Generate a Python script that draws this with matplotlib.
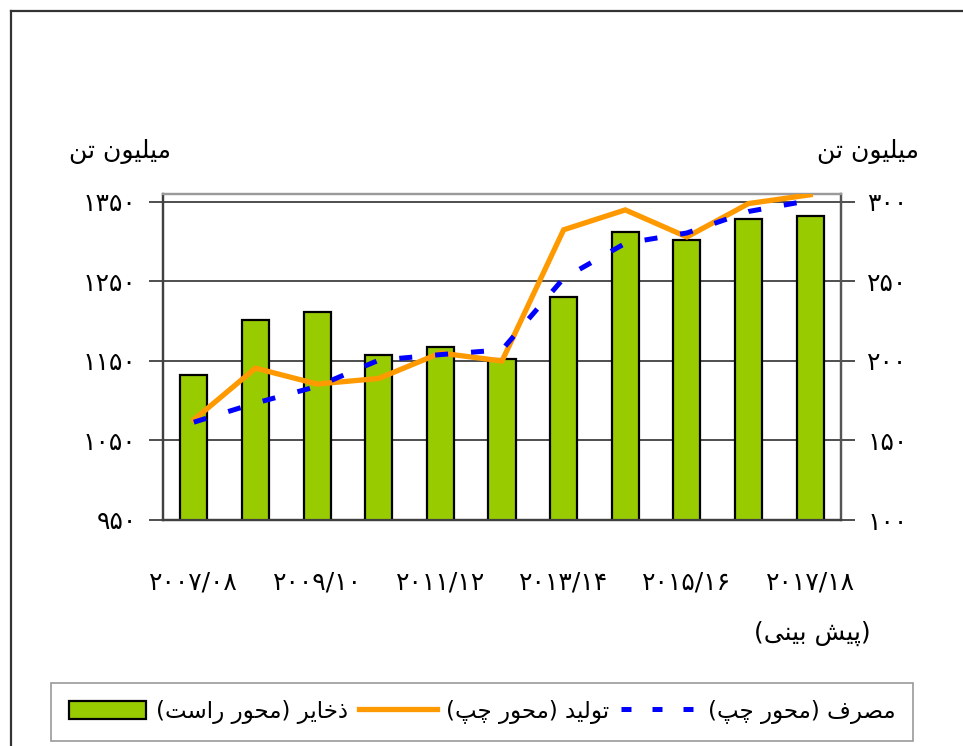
import matplotlib
matplotlib.use("Agg")
import matplotlib.pyplot as plt
from matplotlib.lines import Line2D
from matplotlib.patches import Patch

plt.rcParams['font.family'] = ['DejaVu Sans']

# ---------------- data ----------------
categories = ['۲۰۰۷/۰۸', '۲۰۰۸/۰۹', '۲۰۰۹/۱۰', '۲۰۱۰/۱۱', '۲۰۱۱/۱۲', '۲۰۱۲/۱۳',
              '۲۰۱۳/۱۴', '۲۰۱۴/۱۵', '۲۰۱۵/۱۶', '۲۰۱۶/۱۷', '۲۰۱۷/۱۸']
reserves = [191, 226, 231, 204, 209, 201, 240, 281, 276, 289, 291]          # right axis
production = [1076, 1141, 1121, 1128, 1160, 1150, 1315, 1340, 1306, 1348, 1359]  # left axis
consumption = [1073, 1097, 1118, 1151, 1158, 1164, 1254, 1298, 1311, 1338, 1352]  # left axis
left_ticks = [950, 1050, 1150, 1250, 1350]
right_ticks = [100, 150, 200, 250, 300]
unit_label = 'میلیون تن'
forecast_label = '(پیش بینی)'
label_reserves = 'ذخایر (محور راست)'
label_production = 'تولید (محور چپ)'
label_consumption = 'مصرف (محور چپ)'

# ---------------- simple Arabic/Persian shaping ----------------
FORMS = {
    'ا': ('\uFE8D', '\uFE8E', None, None),
    'ب': ('\uFE8F', '\uFE90', '\uFE91', '\uFE92'),
    'پ': ('\uFB56', '\uFB57', '\uFB58', '\uFB59'),
    'ت': ('\uFE95', '\uFE96', '\uFE97', '\uFE98'),
    'ح': ('\uFEA1', '\uFEA2', '\uFEA3', '\uFEA4'),
    'خ': ('\uFEA5', '\uFEA6', '\uFEA7', '\uFEA8'),
    'چ': ('\uFB7A', '\uFB7B', '\uFB7C', '\uFB7D'),
    'د': ('\uFEA9', '\uFEAA', None, None),
    'ذ': ('\uFEAB', '\uFEAC', None, None),
    'ر': ('\uFEAD', '\uFEAE', None, None),
    'س': ('\uFEB1', '\uFEB2', '\uFEB3', '\uFEB4'),
    'ش': ('\uFEB5', '\uFEB6', '\uFEB7', '\uFEB8'),
    'ص': ('\uFEB9', '\uFEBA', '\uFEBB', '\uFEBC'),
    'ف': ('\uFED1', '\uFED2', '\uFED3', '\uFED4'),
    'ل': ('\uFEDD', '\uFEDE', '\uFEDF', '\uFEE0'),
    'م': ('\uFEE1', '\uFEE2', '\uFEE3', '\uFEE4'),
    'ن': ('\uFEE5', '\uFEE6', '\uFEE7', '\uFEE8'),
    'و': ('\uFEED', '\uFEEE', None, None),
    'ی': ('\uFBFC', '\uFBFD', '\uFBFE', '\uFBFF'),
}


def fa(s):
    out = []
    for i, c in enumerate(s):
        if c not in FORMS:
            out.append(c)
            continue
        prev = s[i - 1] if i > 0 else None
        nxt = s[i + 1] if i + 1 < len(s) else None
        jp = prev in FORMS and FORMS[prev][2] is not None
        jn = nxt in FORMS and FORMS[c][2] is not None
        iso, fin, ini, med = FORMS[c]
        if jp and jn:
            out.append(med)
        elif jp:
            out.append(fin)
        elif jn:
            out.append(ini)
        else:
            out.append(iso)
    vis = ''.join(reversed(out))
    swap = {'(': ')', ')': '('}
    return ''.join(swap.get(ch, ch) for ch in vis)


PDIG = str.maketrans('0123456789', '۰۱۲۳۴۵۶۷۸۹')
FS = 18
LFS = 16.5

# ---------------- figure ----------------
fig = plt.figure(figsize=(9.63, 7.46), dpi=100)
W, H = 963, 746
ax = fig.add_axes([163 / W, 1 - 520 / H, (841 - 163) / W, (520 - 194) / H])
ax2 = ax.twinx()

x = list(range(len(categories)))
GREEN = '#99CC00'
ORANGE = '#FF9900'
BLUE = '#0000FF'

ax2.bar(x, reserves, width=0.44, color=GREEN, edgecolor='black', linewidth=1.6, zorder=2)
ax2.set_ylim(100, 305)
ax.set_ylim(950, 1360)
ax.set_xlim(-0.5, 10.5)

ax3 = fig.add_axes(ax.get_position(), sharex=ax, frameon=False)
ax3.set_ylim(950, 1360)
ax3.plot(x, production, color=ORANGE, linewidth=3.8, solid_joinstyle='miter', zorder=3)
ax3.plot(x, consumption, color=BLUE, linewidth=3.6, dashes=(2.6, 4.6), zorder=4)
ax3.axis('off')

for v in left_ticks:
    ax.axhline(v, color='#404040', linewidth=1.3, zorder=0)

ax.set_zorder(0)
ax2.set_zorder(1)
ax3.set_zorder(2)
ax2.patch.set_visible(False)

ax.set_yticks(left_ticks)
ax.set_yticklabels([str(v).translate(PDIG) for v in left_ticks], fontsize=FS)
ax2.set_yticks(right_ticks)
ax2.set_yticklabels([str(v).translate(PDIG) for v in right_ticks], fontsize=FS)
ax.tick_params(axis='y', direction='out', length=10, width=1.3, color='#404040', pad=9)
ax2.tick_params(axis='y', direction='out', length=10, width=1.3, color='#404040', pad=9)

ax.set_xticks(x[::2])
ax.set_xticklabels(categories[::2], fontsize=FS)
ax.tick_params(axis='x', length=0, pad=36)

for a in (ax, ax2):
    a.spines['left'].set_color('#404040')
    a.spines['left'].set_linewidth(1.6)
    a.spines['right'].set_color('#555555')
    a.spines['right'].set_linewidth(1.6)
    a.spines['bottom'].set_color('#404040')
    a.spines['bottom'].set_linewidth(1.6)
    a.spines['top'].set_color('#9a9a9a')
    a.spines['top'].set_linewidth(1.6)

fig.text(120 / W, 1 - 152 / H, fa(unit_label), fontsize=FS, ha='center', va='center')
fig.text(868 / W, 1 - 152 / H, fa(unit_label), fontsize=FS, ha='center', va='center')
fig.text(812 / W, 1 - 633 / H, fa(forecast_label), fontsize=FS, ha='center', va='center')

handles = [
    Patch(facecolor=GREEN, edgecolor='black', linewidth=1.6),
    Line2D([0], [0], color=ORANGE, linewidth=3.8),
    Line2D([0], [0], color=BLUE, linewidth=3.6, dashes=(2.0, 4.2)),
]
labels = [fa(label_reserves), fa(label_production), fa(label_consumption)]
leg = fig.legend(handles, labels, ncol=3, loc='center', bbox_to_anchor=(482 / W, 1 - 712 / H),
                 fontsize=LFS, frameon=True, fancybox=False, edgecolor='#808080',
                 handlelength=3.4, handleheight=0.85, columnspacing=0.5, handletextpad=0.4,
                 borderpad=0.75, borderaxespad=0)
leg.get_frame().set_linewidth(1.2)

fig.add_artist(Line2D([11 / W, 1.0], [1 - 11 / H, 1 - 11 / H], color='#333333', linewidth=1.6))
fig.add_artist(Line2D([11 / W, 11 / W], [0.0, 1 - 11 / H], color='#333333', linewidth=1.6))

fig.savefig('out.png', dpi=100)
